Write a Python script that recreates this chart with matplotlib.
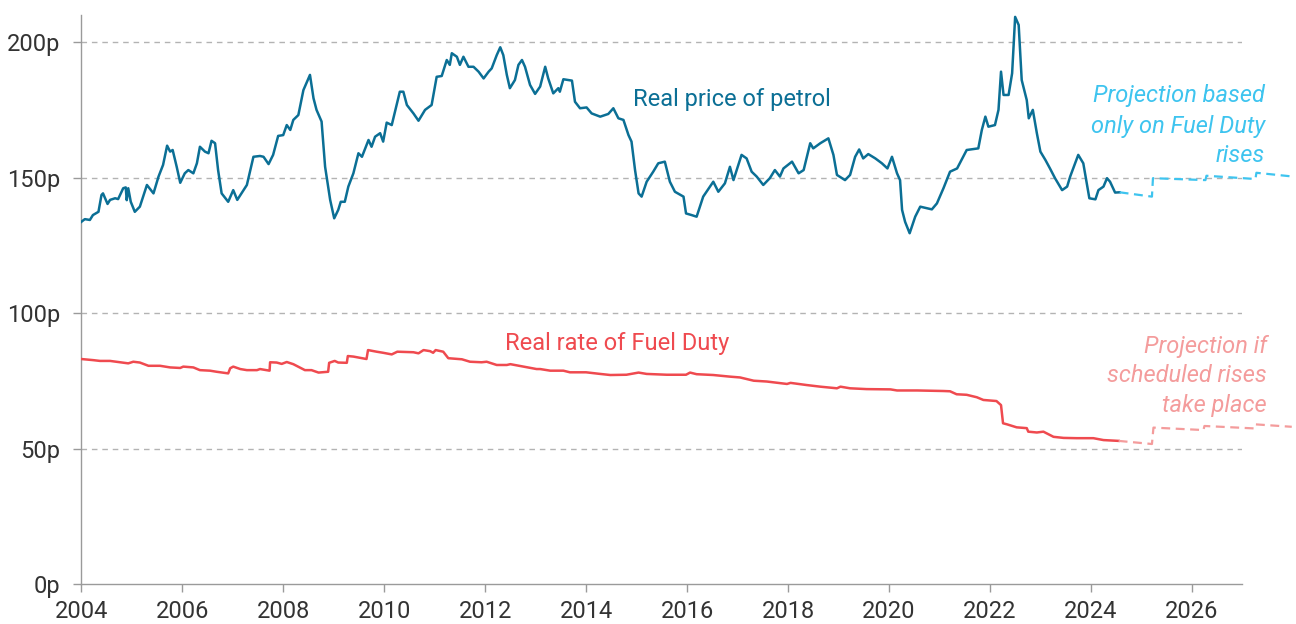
import matplotlib
matplotlib.use("Agg")
import matplotlib.pyplot as plt

# values (decimal year, pence per litre)
petrol_years = [
    2004.00, 2004.07, 2004.17, 2004.23, 2004.34, 2004.40, 2004.43, 2004.52, 2004.57, 2004.67,
    2004.73, 2004.83, 2004.88, 2004.90, 2004.93, 2004.98, 2005.06, 2005.16, 2005.30, 2005.43,
    2005.53, 2005.62, 2005.70, 2005.76, 2005.81, 2005.89, 2005.96, 2006.05, 2006.12, 2006.22,
    2006.29, 2006.35, 2006.45, 2006.52, 2006.58, 2006.65, 2006.71, 2006.78, 2006.91, 2007.01,
    2007.09, 2007.28, 2007.41, 2007.54, 2007.61, 2007.71, 2007.80, 2007.90, 2008.00, 2008.07,
    2008.14, 2008.20, 2008.30, 2008.40, 2008.53, 2008.60, 2008.66, 2008.76, 2008.83, 2008.93,
    2009.01, 2009.09, 2009.14, 2009.22, 2009.29, 2009.39, 2009.49, 2009.56, 2009.69, 2009.75,
    2009.82, 2009.92, 2009.98, 2010.05, 2010.15, 2010.31, 2010.38, 2010.45, 2010.58, 2010.68,
    2010.81, 2010.94, 2011.04, 2011.14, 2011.24, 2011.30, 2011.34, 2011.44, 2011.50, 2011.57,
    2011.67, 2011.77, 2011.87, 2011.97, 2012.07, 2012.13, 2012.23, 2012.30, 2012.36, 2012.43,
    2012.49, 2012.59, 2012.66, 2012.73, 2012.79, 2012.89, 2012.99, 2013.09, 2013.19, 2013.25,
    2013.35, 2013.45, 2013.48, 2013.55, 2013.72, 2013.78, 2013.88, 2014.01, 2014.11, 2014.28,
    2014.44, 2014.54, 2014.64, 2014.74, 2014.84, 2014.90, 2014.97, 2015.04, 2015.10, 2015.20,
    2015.33, 2015.43, 2015.56, 2015.66, 2015.76, 2015.93, 2015.98, 2016.09, 2016.19, 2016.32,
    2016.52, 2016.62, 2016.75, 2016.85, 2016.92, 2017.08, 2017.18, 2017.28, 2017.38, 2017.51,
    2017.64, 2017.74, 2017.84, 2017.91, 2018.08, 2018.21, 2018.31, 2018.44, 2018.50, 2018.64,
    2018.80, 2018.90, 2018.97, 2019.13, 2019.23, 2019.33, 2019.41, 2019.49, 2019.59, 2019.73,
    2019.86, 2019.97, 2020.06, 2020.16, 2020.22, 2020.26, 2020.32, 2020.41, 2020.52, 2020.62,
    2020.85, 2020.95, 2021.08, 2021.21, 2021.35, 2021.54, 2021.77, 2021.84, 2021.91, 2021.97,
    2022.10, 2022.17, 2022.22, 2022.27, 2022.37, 2022.44, 2022.50, 2022.57, 2022.63, 2022.73,
    2022.77, 2022.85, 2022.93, 2023.00, 2023.10, 2023.19, 2023.29, 2023.43, 2023.53, 2023.59,
    2023.75, 2023.85, 2023.97, 2024.09, 2024.15, 2024.25, 2024.32, 2024.38, 2024.48, 2024.57,
]
petrol_pence = [
    133.7, 134.7, 134.4, 136.2, 137.4, 143.6, 144.2, 140.3, 141.8, 142.4,
    142.1, 146.1, 146.4, 141.7, 146.1, 141.1, 137.4, 139.3, 147.3, 144.2,
    150.4, 154.7, 161.8, 159.6, 160.2, 154.0, 148.1, 151.6, 152.8, 151.6,
    155.3, 161.4, 159.6, 159.0, 163.6, 162.7, 152.8, 144.2, 141.1, 145.4,
    141.8, 147.3, 157.7, 158.0, 157.7, 155.0, 158.4, 165.4, 165.7, 169.4,
    167.6, 171.3, 173.1, 182.3, 187.9, 179.3, 175.0, 170.7, 154.0, 141.8,
    135.0, 138.1, 141.1, 141.1, 146.7, 151.6, 159.0, 157.7, 163.9, 161.4,
    165.1, 166.4, 163.3, 170.3, 169.4, 181.7, 181.7, 176.8, 173.7, 171.0,
    175.0, 176.8, 187.2, 187.5, 193.4, 191.6, 195.9, 194.6, 191.6, 194.6,
    190.9, 190.9, 189.1, 186.6, 189.1, 190.3, 195.2, 198.1, 195.2, 187.9,
    183.0, 186.0, 191.6, 193.4, 190.9, 184.2, 180.9, 183.6, 190.9, 186.6,
    181.1, 183.0, 181.7, 186.3, 185.8, 178.0, 175.6, 175.9, 173.7, 172.5,
    173.5, 175.6, 171.9, 171.3, 165.7, 163.3, 152.8, 144.2, 143.0, 148.5,
    152.2, 155.3, 155.9, 148.5, 144.8, 143.0, 136.8, 136.2, 135.6, 143.0,
    148.5, 144.8, 147.9, 154.0, 149.1, 158.4, 157.1, 152.2, 150.4, 147.3,
    149.8, 152.8, 150.4, 153.4, 155.9, 151.6, 152.8, 162.7, 160.8, 162.7,
    164.5, 158.4, 151.0, 149.1, 151.0, 157.7, 160.4, 157.1, 158.7, 157.1,
    155.3, 153.4, 157.7, 151.6, 149.1, 138.1, 133.7, 129.5, 135.6, 139.3,
    138.3, 140.5, 146.1, 152.2, 153.4, 160.2, 160.8, 167.6, 172.5, 168.8,
    169.4, 175.0, 189.1, 180.5, 180.5, 188.5, 209.3, 206.3, 186.0, 178.6,
    171.9, 175.0, 166.4, 159.6, 156.5, 153.4, 149.8, 145.4, 146.7, 150.4,
    158.4, 155.3, 142.4, 142.0, 145.4, 146.7, 149.8, 148.5, 144.5, 144.6,
]

duty_years = [
    2004.00, 2004.23, 2004.37, 2004.57, 2004.93, 2005.03, 2005.16, 2005.33, 2005.56, 2005.76,
    2005.96, 2006.02, 2006.22, 2006.35, 2006.55, 2006.68, 2006.91, 2006.95, 2007.01, 2007.15,
    2007.28, 2007.48, 2007.54, 2007.73, 2007.74, 2007.87, 2007.97, 2008.07, 2008.20, 2008.43,
    2008.56, 2008.70, 2008.89, 2008.91, 2009.02, 2009.09, 2009.26, 2009.28, 2009.39, 2009.65,
    2009.68, 2009.85, 2009.98, 2010.15, 2010.26, 2010.58, 2010.68, 2010.78, 2010.91, 2010.97,
    2011.02, 2011.17, 2011.27, 2011.54, 2011.70, 2011.93, 2012.03, 2012.23, 2012.43, 2012.50,
    2012.76, 2013.02, 2013.09, 2013.29, 2013.55, 2013.68, 2014.00, 2014.28, 2014.48, 2014.80,
    2015.04, 2015.20, 2015.60, 2015.98, 2016.06, 2016.19, 2016.52, 2016.85, 2017.05, 2017.32,
    2017.58, 2017.98, 2018.05, 2018.37, 2018.64, 2018.97, 2019.04, 2019.23, 2019.56, 2020.03,
    2020.16, 2020.56, 2021.08, 2021.21, 2021.34, 2021.54, 2021.74, 2021.87, 2022.13, 2022.22,
    2022.26, 2022.34, 2022.53, 2022.73, 2022.76, 2022.93, 2023.06, 2023.26, 2023.46, 2023.72,
    2024.05, 2024.25, 2024.55,
]
duty_pence = [
    83.1, 82.7, 82.4, 82.4, 81.5, 82.1, 81.8, 80.6, 80.6, 80.0,
    79.8, 80.3, 80.0, 79.0, 78.8, 78.4, 77.8, 79.7, 80.3, 79.4,
    79.0, 79.0, 79.4, 78.8, 81.9, 81.8, 81.3, 82.0, 81.2, 79.0,
    79.0, 78.1, 78.4, 81.7, 82.4, 81.8, 81.7, 84.2, 84.0, 83.1,
    86.4, 85.8, 85.4, 84.8, 85.8, 85.6, 85.2, 86.4, 86.0, 85.4,
    86.4, 85.8, 83.4, 83.0, 82.1, 81.9, 82.1, 80.9, 80.9, 81.2,
    80.3, 79.4, 79.4, 78.8, 78.8, 78.2, 78.2, 77.6, 77.2, 77.3,
    78.1, 77.6, 77.3, 77.3, 78.1, 77.5, 77.2, 76.6, 76.3, 75.1,
    74.8, 73.9, 74.3, 73.5, 72.9, 72.3, 72.9, 72.3, 72.0, 71.9,
    71.5, 71.5, 71.3, 71.2, 70.1, 69.9, 69.0, 68.0, 67.6, 66.1,
    59.4, 59.0, 57.9, 57.6, 56.3, 56.0, 56.3, 54.4, 54.0, 53.9,
    53.9, 53.2, 52.9,
]

# projections
petrol_proj_years = [2024.57, 2025.21, 2025.23, 2026.27, 2026.29, 2027.26, 2027.28, 2028.01]
petrol_proj_pence = [144.6, 143.0, 149.8, 149.1, 150.7, 149.5, 151.8, 150.4]
duty_proj_years = [2024.55, 2025.21, 2025.24, 2026.23, 2026.25, 2027.24, 2027.26, 2027.98]
duty_proj_pence = [52.9, 51.75, 57.8, 56.9, 58.4, 57.5, 59.0, 58.1]

year_ticks = list(range(2004, 2027, 2))
pence_ticks = [0, 50, 100, 150, 200]

petrol_col = "#0b6f95"
petrol_proj_col = "#3ec4ef"
duty_col = "#ef4a4f"
duty_proj_col = "#f49c9c"
font = ["Roboto", "DejaVu Sans"]

plt.rcParams["font.family"] = font

fig = plt.figure(figsize=(12.96, 6.24), dpi=100)
ax = fig.add_axes([81.3 / 1296, 39.7 / 624, (1242.3 - 81.3) / 1296, (584.3 - 15) / 624])

# dashed gridlines
for v in pence_ticks[1:]:
    ax.axhline(v, color="#b3b3b3", lw=1.0, ls=(0, (4, 3.5)), zorder=1)

ax.plot(petrol_years, petrol_pence, color=petrol_col, lw=1.8, zorder=3)
ax.plot(duty_years, duty_pence, color=duty_col, lw=1.8, zorder=3)
ax.plot(petrol_proj_years, petrol_proj_pence, color=petrol_proj_col, lw=1.6,
        ls=(0, (4, 2.5)), clip_on=False, zorder=3)
ax.plot(duty_proj_years, duty_proj_pence, color=duty_proj_col, lw=1.6,
        ls=(0, (4, 2.5)), clip_on=False, zorder=3)

ax.set_xlim(2004, 2027)
ax.set_ylim(0, 210)
ax.set_xticks(year_ticks)
ax.set_xticklabels([str(y) for y in year_ticks])
ax.set_yticks(pence_ticks)
ax.set_yticklabels([f"{v}p" for v in pence_ticks])

for s in ["top", "right"]:
    ax.spines[s].set_visible(False)
for s in ["left", "bottom"]:
    ax.spines[s].set_color("#9a9a9a")
    ax.spines[s].set_linewidth(1.0)
ax.tick_params(axis="both", colors="#9a9a9a", length=6, width=1.0,
               labelcolor="#333333", labelsize=17)
ax.tick_params(axis="x", pad=5)
ax.tick_params(axis="y", pad=9)

# labels
ax.text(2014.93, 176.4, "Real price of petrol", color=petrol_col, fontsize=17,
        ha="left", va="baseline")
ax.text(2014.61, 86.4, "Real rate of Fuel Duty", color=duty_col, fontsize=17,
        ha="center", va="baseline")

blue_lines = ["Projection based", "only on Fuel Duty", "rises"]
for line, yv in zip(blue_lines, [178.0, 166.5, 155.8]):
    ax.text(2027.45, yv, line, color=petrol_proj_col, fontsize=17, fontstyle="italic",
            ha="right", va="baseline")

pink_lines = ["Projection if", "scheduled rises", "take place"]
for line, yv in zip(pink_lines, [85.3, 74.7, 63.7]):
    ax.text(2027.49, yv, line, color=duty_proj_col, fontsize=17, fontstyle="italic",
            ha="right", va="baseline")

fig.savefig("out.png", dpi=100)
